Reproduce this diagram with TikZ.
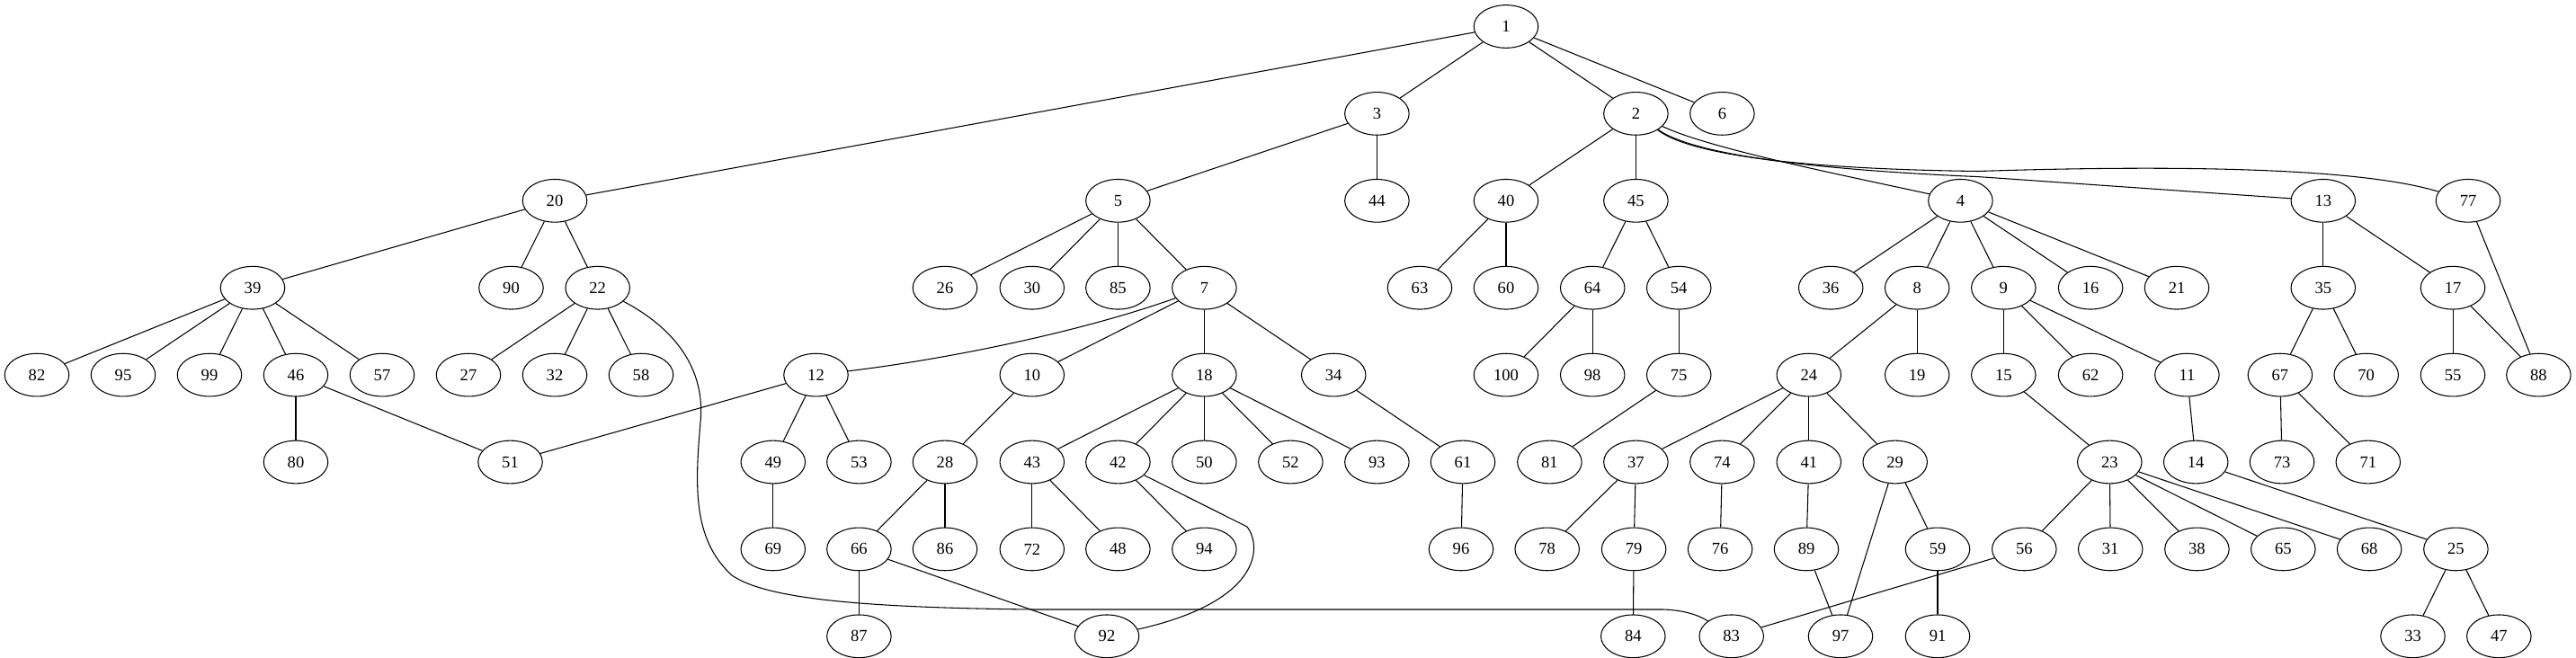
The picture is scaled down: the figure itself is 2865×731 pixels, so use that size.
\documentclass[tikz,border=0pt]{standalone}
\usepackage{fontspec}
\setmainfont{Liberation Serif}
\usetikzlibrary{shapes.geometric}
\tikzset{
  nd/.style={ellipse, draw, line width=0.8pt, minimum width=54pt, minimum height=36pt, inner sep=0pt, font=\fontsize{14}{16}\selectfont},
  edge/.style={line width=0.8pt}
}
\begin{document}
\begin{tikzpicture}[x=0.755pt, y=-0.755pt]
\useasboundingbox (0,0) rectangle (2865,731);
% row 0
\node[nd] (n1) at (1675,29.5) {1};
% row 1
\foreach \n/\x in {3/1531.4, 2/1819.4, 6/1915.4}
  \node[nd] (n\n) at (\x,126.4) {\n};
% row 2
\foreach \n/\x in {20/617, 5/1243.4, 44/1531.4, 40/1675, 45/1819.4, 4/2180.4, 13/2583.8, 77/2745}
  \node[nd] (n\n) at (\x,223.3) {\n};
% row 3
\foreach \n/\x in {39/281, 90/568.5, 22/664.7, 26/1051, 30/1147.8, 85/1243.4, 7/1339.4, 63/1579, 60/1675, 64/1771.2, 54/1867.2, 36/2036.2, 8/2132.2, 9/2228.3, 16/2325.1, 21/2421, 35/2583.8, 17/2728}
  \node[nd] (n\n) at (\x,320.2) {\n};
% row 4
\foreach \n/\x in {82/41, 95/137, 99/233, 46/329, 57/425, 27/521, 32/617, 58/713, 12/907.5, 10/1147.8, 18/1339.4, 34/1483.2, 100/1675, 98/1771.2, 75/1867.2, 24/2011.8, 19/2132.2, 15/2228.3, 62/2325.1, 11/2432.4, 67/2535.9, 70/2631.7, 55/2728, 88/2823.4}
  \node[nd] (n\n) at (\x,417.1) {\n};
% row 5
\foreach \n/\x in {80/329, 51/567.5, 49/859.8, 53/955.4, 28/1051, 43/1147.8, 42/1243.4, 50/1339.4, 52/1435.4, 93/1531.4, 61/1627, 81/1723.4, 37/1819.4, 74/1915.4, 41/2011.8, 29/2107.7, 23/2346.3, 14/2442.2, 73/2538, 71/2633.8}
  \node[nd] (n\n) at (\x,514) {\n};
% row 6
\foreach \n/\x in {69/859.8, 66/955.4, 86/1051, 72/1147.8, 48/1243.4, 94/1339.4, 96/1625, 78/1720.7, 79/1817.1, 76/1913.1, 89/2009, 59/2155, 56/2251.3, 31/2347.2, 38/2443.4, 65/2539.3, 68/2635.1, 25/2731.4}
  \node[nd] (n\n) at (\x,610.9) {\n};
% row 7
\foreach \n/\x in {87/955.4, 92/1231, 84/1816.3, 83/1925.7, 97/2047, 91/2155, 33/2683.5, 47/2779.3}
  \node[nd] (n\n) at (\x,707.8) {\n};

% straight edges
\foreach \a/\b in {1/3, 1/2, 1/6, 1/20, 3/5, 3/44, 2/40, 2/45,
  20/39, 20/90, 20/22, 5/26, 5/30, 5/85, 5/7, 40/63, 40/60, 45/64, 45/54,
  4/36, 4/8, 4/9, 4/16, 4/21, 13/35, 13/17, 77/88,
  39/82, 39/95, 39/99, 39/46, 39/57, 22/27, 22/32, 22/58,
  7/10, 7/18, 7/34, 64/100, 64/98, 54/75, 8/24, 8/19, 9/15, 9/62, 9/11,
  35/67, 35/70, 17/55, 17/88, 46/80, 46/51, 12/51, 12/49, 12/53, 10/28,
  18/43, 18/42, 18/50, 18/52, 18/93, 34/61, 75/81, 24/37, 24/74, 24/41, 24/29,
  15/23, 11/14, 67/73, 67/71, 49/69, 28/66, 28/86, 43/72, 43/48, 42/94,
  61/96, 37/78, 37/79, 74/76, 41/89, 29/59, 29/97, 23/56, 23/31, 23/38, 23/65, 23/68,
  14/25, 66/87, 66/92, 79/84, 89/97, 59/91, 56/83, 25/33, 25/47}
  \draw[edge] (n\a) -- (n\b);

% curved edges
\draw[edge] (n7) .. controls (1200,370) and (1050,400) .. (n12);
\draw[edge] (n2) .. controls (1900,165) and (2050,195) .. (n4);
\draw[edge] (n2) .. controls (1880,170) and (2000,188) .. (2200,196.6) -- (n13);
\draw[edge] (n2) .. controls (1880,172) and (2000,188) .. (2200,190.5) .. controls (2400,184) and (2620,185) .. (n77);
\draw[edge] (n22) .. controls (750,365) and (785,410) .. (779,470) .. controls (773,540) and (770,600) .. (814,640) .. controls (850,665) and (950,676) .. (1150,678) -- (1850,678) .. controls (1880,679) and (1895,688) .. (n83);
\draw[edge] (n42) -- (1387,586) .. controls (1405,610) and (1400,670) .. (n92);
\end{tikzpicture}
\end{document}
